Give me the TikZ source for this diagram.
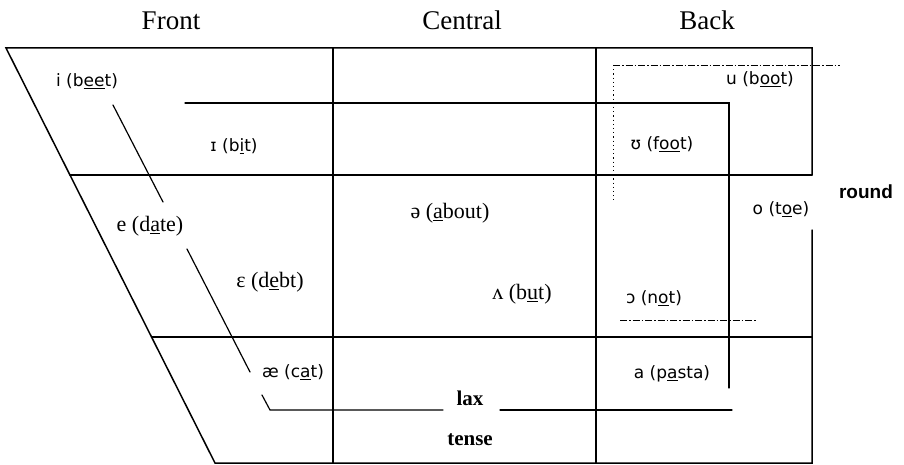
\documentclass[tikz,border=0pt]{standalone}
\usepackage{fontspec}
\setmainfont{Liberation Serif}
\newfontfamily\ipasans{DejaVu Sans}
\newfontfamily\labsans{Liberation Sans}
\begin{document}
\begin{tikzpicture}[x=1pt,y=-1pt,
  frame/.style={line width=1.5pt,line cap=round},
  innerln/.style={line width=1.2pt,line cap=round},
  roundln/.style={line width=0.9pt,dash pattern=on 7pt off 2pt on 1.5pt off 2pt},
  dotln/.style={line width=0.9pt,dash pattern=on 1.2pt off 3pt},
  hdr/.style={font=\fontsize{27}{30}\selectfont,inner sep=0pt,anchor=base},
  sv/.style={font=\ipasans\fontsize{17}{20}\selectfont,inner sep=0pt},
  rv/.style={font=\fontsize{22}{25}\selectfont,inner sep=0pt},
  bl/.style={font=\bfseries\fontsize{21}{24}\selectfont,inner sep=0pt},
  rl/.style={font=\labsans\bfseries\fontsize{19}{22}\selectfont,inner sep=0pt}]
\useasboundingbox (0,0) rectangle (904,465);
% corners
\coordinate (TL) at (6,48);
\coordinate (TR) at (812,48);
\coordinate (BL) at (215,463);
\coordinate (BR) at (812,463);
\coordinate (RA) at (812,175);
\coordinate (RB) at (812,230);
\coordinate (H1L) at (70,175);
\coordinate (H2L) at (151.5,337);
\coordinate (H2R) at (812,337);
\coordinate (V1T) at (333,48);
\coordinate (V1B) at (333,463);
\coordinate (V2T) at (596,48);
\coordinate (V2B) at (596,463);
% frame
\draw[frame] (RA) -- (TR) -- (TL) -- (BL) -- (BR) -- (RB);
\draw[frame] (H1L) -- (RA);
\draw[frame] (H2L) -- (H2R);
\draw[frame] (V1T) -- (V1B);
\draw[frame] (V2T) -- (V2B);
% lax / tense boundary
\coordinate (L1) at (113,105);
\coordinate (L2) at (163,202);
\coordinate (L3) at (187,249);
\coordinate (L4) at (250,372);
\coordinate (L5) at (262,395);
\coordinate (L6) at (270,410);
\coordinate (L7) at (443,410);
\coordinate (L8) at (500,410);
\coordinate (L9) at (732,410);
\coordinate (U1) at (185,103);
\coordinate (U2) at (729,103);
\coordinate (U3) at (729,388);
\draw[innerln] (L1) -- (L2);
\draw[innerln] (L3) -- (L4);
\draw[innerln] (L5) -- (L6) -- (L7);
\draw[innerln] (L8) -- (L9);
\draw[innerln] (U1) -- (U2) -- (U3);
% round region
\coordinate (R1) at (613,65);
\coordinate (R2) at (840,65);
\coordinate (R3) at (613,200);
\coordinate (R4) at (620,320);
\coordinate (R5) at (757,320);
\draw[roundln] (R1) -- (R2);
\draw[dotln] (R1) -- (R3);
\draw[roundln] (R4) -- (R5);
% headers
\node[hdr] (front) at (171,30) {Front};
\node[hdr] (central) at (462,30) {Central};
\node[hdr] (back) at (707,30) {Back};
% vowels
\node[sv] (i) at (87,81) {i (b\underline{ee}t)};
\node[sv] (I) at (234,146) {ɪ (b\underline{i}t)};
\node[sv] (u) at (760,79) {u (b\underline{oo}t)};
\node[sv] (U) at (662,144) {ʊ (f\underline{oo}t)};
\node[rv] (e) at (150,226) {e (d\underline{a}te)};
\node[rv] (E) at (270,282) {ɛ (d\underline{e}bt)};
\node[rv] (schwa) at (450,213) {ə (\underline{a}bout)};
\node[rv] (wedge) at (522,294) {ʌ (b\underline{u}t)};
\node[sv] (O) at (654,298) {ɔ (n\underline{o}t)};
\node[sv] (o) at (781,209) {o (t\underline{o}e)};
\node[sv] (ae) at (293,372) {æ (c\underline{a}t)};
\node[sv] (a) at (672,374) {a (p\underline{a}sta)};
\node[rl] (round) at (866,192) {round};
\node[bl] (lax) at (470,398) {lax};
\node[bl] (tense) at (470,440) {tense};
\end{tikzpicture}
\end{document}
